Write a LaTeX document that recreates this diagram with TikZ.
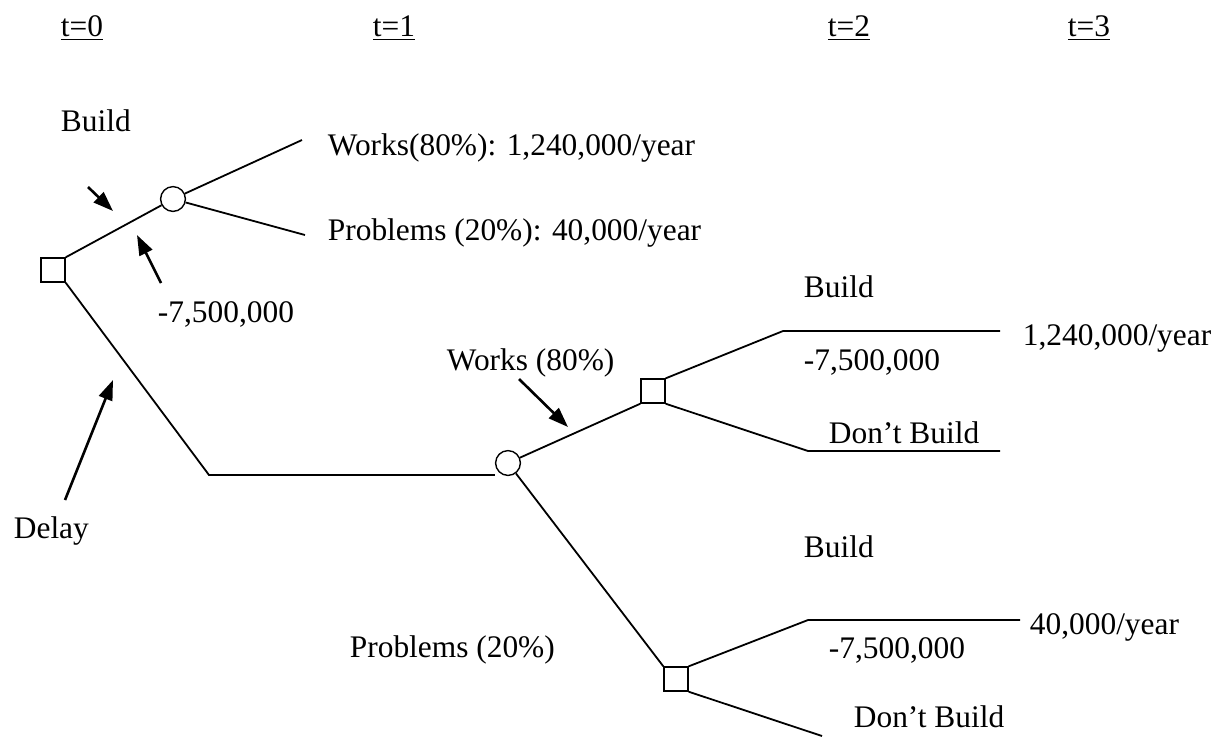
\documentclass[tikz,border=0pt]{standalone}
\usepackage{fontspec}
\setmainfont{Liberation Serif}
\usepackage{tikz}
\usetikzlibrary{arrows.meta}

\tikzset{
  lbl/.style={anchor=base west,inner sep=0pt,font=\fontsize{15.7}{18}\selectfont},
  dec/.style={draw,line width=0.7pt,rectangle,minimum size=12pt,inner sep=0pt},
  chance/.style={draw,line width=0.7pt,circle,minimum size=12.4pt,inner sep=0pt},
  ptr/.style={line width=1.3pt,-{Triangle[length=10pt,width=7pt]}}
}

\begin{document}
\begin{tikzpicture}[x=0.5pt,y=-0.5pt,line width=0.9pt]
  \useasboundingbox (0,0) rectangle (1224,736);
  % time axis
  \node[lbl] (t0) at (60,36) {\underline{t=0}};
  \node[lbl] (t1) at (372,36) {\underline{t=1}};
  \node[lbl] (t2) at (827,36) {\underline{t=2}};
  \node[lbl] (t3) at (1067,36) {\underline{t=3}};

  % nodes of the tree
  \node[dec] (d0) at (53,270) {};
  \node[chance] (c0) at (173,199) {};
  \node[chance] (c1) at (508,463) {};
  \node[dec] (d1) at (653,391) {};
  \node[dec] (d2) at (676,679) {};

  % build now
  \draw (d0.north east) -- (c0);
  \coordinate (w0) at (302,140);
  \coordinate (p0) at (305,235);
  \draw (c0) -- (w0);
  \draw (c0) -- (p0);
  \node[lbl] (build0) at (60,131) {Build};
  \node[lbl] (works0) at (327,155) {Works(80\%): 1,240,000/year};
  \node[lbl] (prob0) at (327,240) {Problems (20\%): 40,000/year};
  \node[lbl] (cost0) at (157,322) {-7,500,000};
  \draw[ptr] (88,187) -- (113,211);
  \draw[ptr] (161,283) -- (137,235);

  % delay
  \coordinate (dl) at (209,475);
  \draw (d0.south east) -- (dl) -- (dl -| c1.west);
  \node[lbl] (delay) at (13,538) {Delay};
  \draw[ptr] (65,500) -- (113,380);

  % works at t=1
  \draw (c1) -- (d1.south west);
  \node[lbl] (works1) at (446,370) {Works (80\%)};
  \draw[ptr] (519,379) -- (568,427);
  \draw (d1.north east) -- (783,331) -- (1000,331);
  \draw (d1.south east) -- (808,451) -- (1000,451);
  \node[lbl] (build1) at (803,297) {Build};
  \node[lbl] (cost1) at (803,370) {-7,500,000};
  \node[lbl] (cf1) at (1022,345) {1,240,000/year};
  \node[lbl] (nob1) at (828,443) {Don’t Build};

  % problems at t=1
  \draw (c1) -- (d2.north west);
  \node[lbl] (prob1) at (349,657) {Problems (20\%)};
  \draw (d2.north east) -- (808,620) -- (1020,620);
  \draw (d2.south east) -- (822,736);
  \node[lbl] (build2) at (803,557) {Build};
  \node[lbl] (cost2) at (828,658) {-7,500,000};
  \node[lbl] (cf2) at (1029,634) {40,000/year};
  \node[lbl] (nob2) at (853,727) {Don’t Build};
\end{tikzpicture}
\end{document}
